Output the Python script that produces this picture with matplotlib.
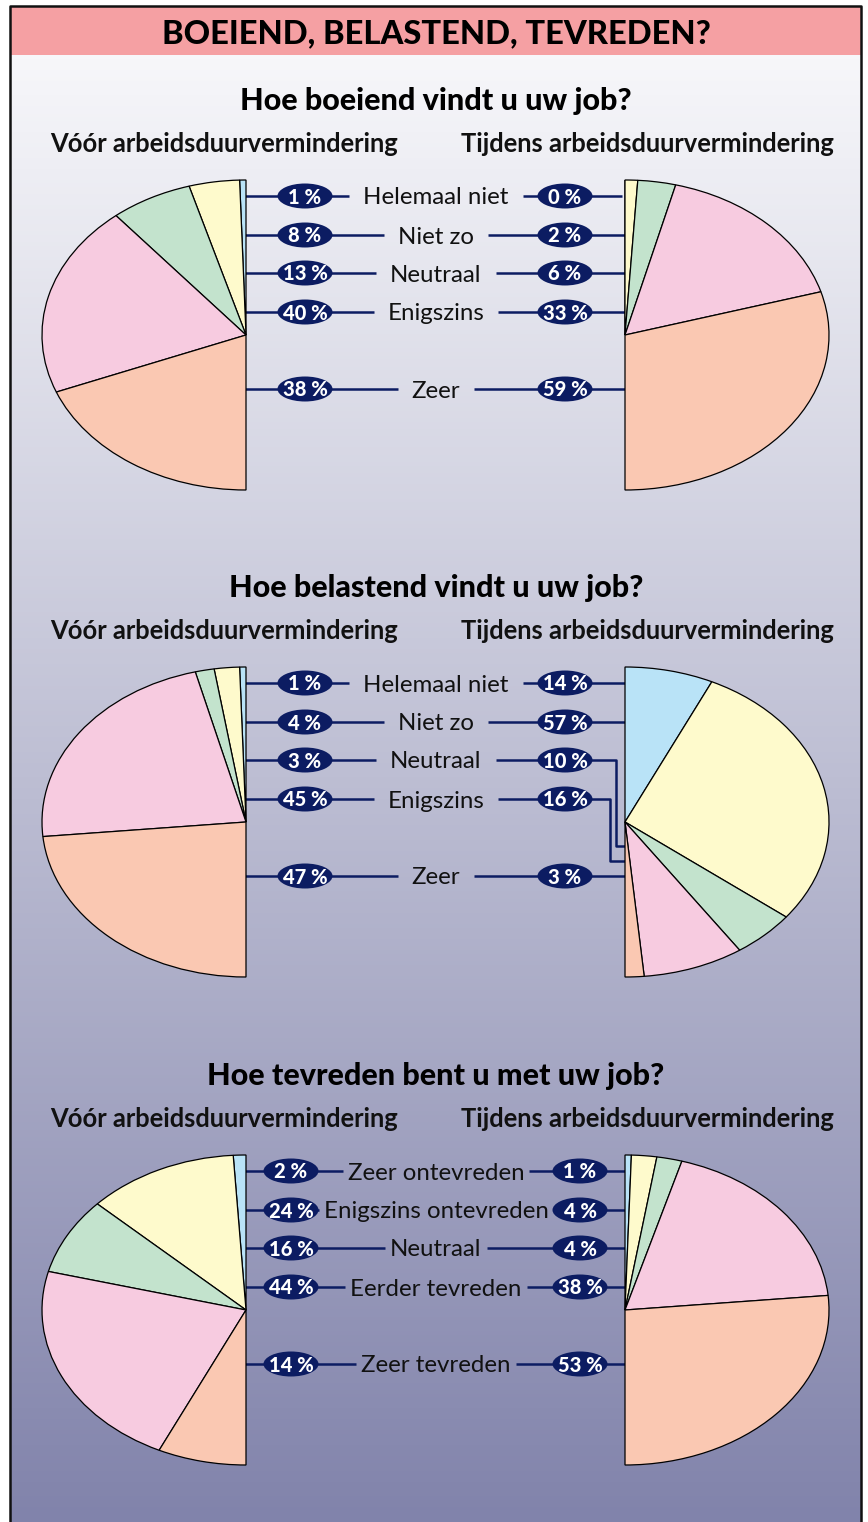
import numpy as np
import matplotlib
matplotlib.use("Agg")
import matplotlib.pyplot as plt
from matplotlib.patches import Ellipse, Rectangle

# ---------------- data ----------------
main_title = "BOEIEND, BELASTEND, TEVREDEN?"
questions = ["Hoe boeiend vindt u uw job?",
             "Hoe belastend vindt u uw job?",
             "Hoe tevreden bent u met uw job?"]
period_labels = ["Vóór arbeidsduurvermindering", "Tijdens arbeidsduurvermindering"]

categories_boeiend = ["Helemaal niet", "Niet zo", "Neutraal", "Enigszins", "Zeer"]
boeiend_voor = [1, 8, 13, 40, 38]
boeiend_tijdens = [0, 2, 6, 33, 59]

categories_belastend = ["Helemaal niet", "Niet zo", "Neutraal", "Enigszins", "Zeer"]
belastend_voor = [1, 4, 3, 45, 47]
belastend_tijdens = [14, 57, 10, 16, 3]

categories_tevreden = ["Zeer ontevreden", "Enigszins ontevreden", "Neutraal",
                       "Eerder tevreden", "Zeer tevreden"]
tevreden_voor = [2, 24, 16, 44, 14]
tevreden_tijdens = [1, 4, 4, 38, 53]

slice_colors = ["#b9e3f7", "#fefacc", "#c3e3cd", "#f7cbe0", "#fac8b2"]

# ---------------- layout (pixels) ----------------
W, H = 868, 1522
fig = plt.figure(figsize=(W / 100, H / 100), dpi=100)
ax = fig.add_axes([0, 0, 1, 1])
ax.set_xlim(0, W)
ax.set_ylim(H, 0)
ax.axis("off")

# background gradient
top_c = np.array([247, 247, 250]) / 255
bot_c = np.array([129, 131, 171]) / 255
t = np.linspace(0, 1, 400)[:, None]
grad = (top_c[None, :] * (1 - t) + bot_c[None, :] * t)[:, None, :]
ax.imshow(grad, extent=[10, 861, H, 55], aspect="auto", zorder=0)
# title band
ax.add_patch(Rectangle((10, 6), 851, 49, facecolor="#f5a0a3", edgecolor="none", zorder=1))
# frame
ax.plot([10, 10, 861, 861], [H, 6, 6, H], color="#111111", lw=1.8, zorder=5)

FONT = "Lato"
NAVY = "#0c1c62"

ax.text(436, 34, main_title, ha="center", va="center", fontsize=23.5,
        fontweight=900, family=FONT, color="black", zorder=6)

blocks = [
    (categories_boeiend, boeiend_voor, boeiend_tijdens),
    (categories_belastend, belastend_voor, belastend_tijdens),
    (categories_tevreden, tevreden_voor, tevreden_tijdens),
]
centers_y = [335, 822, 1310]
cx_left, cx_right = 246, 625
rx, ry = 204, 155
row_offsets = [-139, -100, -62, -23, 54]
left_pill_x = [305, 305, 291]
right_pill_x = [565, 565, 580]
text_gap = [14, 14, 5]
pill_w, pill_h = 55, 25

# leader end points (x) inside the pies
left_ends = [[243, 228, 204, 157, 216],
             [243, 235, 228, 198, 216],
             [242, 205, 158, 158, 216]]
right_ends = [[622, 628, 636, 650, 668],
              [660, 704, None, None, 627],
              [625, 634, 638, 651, 654]]
# elbow leaders for second right pie: (x_turn, y_down, x_end)
elbows = {(1, 2): (616, 846, 655), (1, 3): (610, 861, 641)}


def draw_pie(cx, cy, values, clockwise):
    left = (cx - rx) / W
    bottom = (H - (cy + ry)) / H
    pax = fig.add_axes([left, bottom, 2 * rx / W, 2 * ry / H])
    vals = list(values) + [sum(values)]
    wedges, _ = pax.pie(vals, colors=slice_colors + ["none"], startangle=90,
                        counterclock=not clockwise, radius=1,
                        wedgeprops=dict(edgecolor="black", linewidth=0.9))
    wedges[-1].set_visible(False)
    for w in wedges:
        w.set_clip_on(False)
    pax.set_aspect("auto")
    pax.set_xlim(-1, 1)
    pax.set_ylim(-1, 1)
    pax.axis("off")
    pax.patch.set_visible(False)


def pill(x, y, txt):
    ax.add_patch(Ellipse((x, y), pill_w, pill_h, facecolor=NAVY, edgecolor="none", zorder=7))
    ax.text(x, y + 1, txt, ha="center", va="center", color="white", fontsize=14.5,
            fontweight=900, family=FONT, zorder=8)


fig.canvas.draw()
renderer = fig.canvas.get_renderer()

for b, (cats, voor, tijdens) in enumerate(blocks):
    cy = centers_y[b]
    q_y = cy - 234
    ax.text(436, q_y, questions[b], ha="center", va="center", fontsize=22,
            fontweight=900, family=FONT, color="black", zorder=6)
    ax.text(224, cy - 191, period_labels[0], ha="center", va="center", fontsize=18.4,
            fontweight="bold", family=FONT, color="#111111", zorder=6)
    ax.text(647, cy - 191, period_labels[1], ha="center", va="center", fontsize=18.4,
            fontweight="bold", family=FONT, color="#111111", zorder=6)

    draw_pie(cx_left, cy, voor, clockwise=False)
    draw_pie(cx_right, cy, tijdens, clockwise=True)

    lp, rp = left_pill_x[b], right_pill_x[b]
    for i, cat in enumerate(cats):
        y = cy + row_offsets[i]
        txt = ax.text(436, y + 2, cat, ha="center", va="center", fontsize=17.3,
                      family=FONT, color="#111111", zorder=6)
        bb = txt.get_window_extent(renderer=renderer)
        tx0 = bb.x0 * 100 / fig.dpi
        tx1 = bb.x1 * 100 / fig.dpi
        g = text_gap[b]
        kw = dict(color=NAVY, lw=1.8, zorder=6, solid_capstyle="butt")
        # center leaders
        ax.plot([lp, tx0 - g], [y, y], **kw)
        ax.plot([tx1 + g, rp], [y, y], **kw)
        # left leader into pie
        ax.plot([left_ends[b][i], lp], [y, y], **kw)
        # right leader into pie
        if (b, i) in elbows:
            xt, yd, xe = elbows[(b, i)]
            ax.plot([rp, xt, xt, xe], [y, y, yd, yd], **kw)
        else:
            ax.plot([rp, right_ends[b][i]], [y, y], **kw)
        pill(lp, y, f"{voor[i]} %")
        pill(rp, y, f"{tijdens[i]} %")

fig.savefig("out.png", dpi=100)
